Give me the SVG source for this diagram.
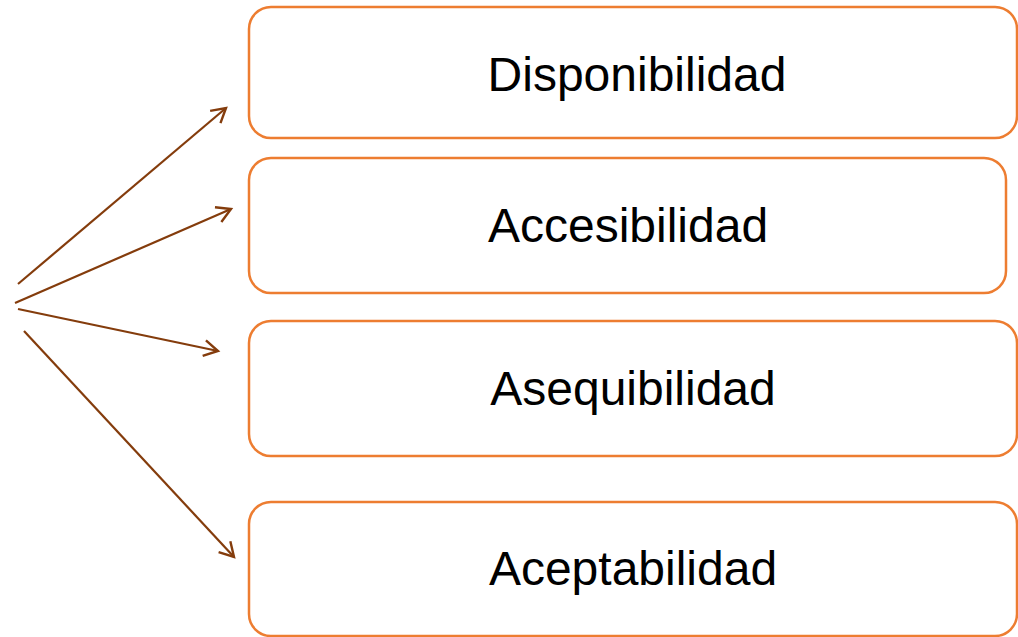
<svg xmlns="http://www.w3.org/2000/svg" width="1018" height="637" viewBox="0 0 1018 637">
<style>
.box{fill:#FFFFFF;stroke:#ED7D31;stroke-width:2.5}
.lbl{font-family:"Liberation Sans",Arial,sans-serif;font-size:48px;fill:#000000;text-anchor:middle}
.con{stroke:#843C0C;stroke-width:2.2;fill:none;marker-end:url(#ah)}
</style>
<defs>
<marker id="ah" viewBox="0 0 22 22" refX="18" refY="11" markerWidth="22" markerHeight="22" markerUnits="userSpaceOnUse" orient="auto">
<path d="M4,3 L18,11 L4,19" fill="none" stroke="#843C0C" stroke-width="2.4"/>
</marker>
</defs>
<rect width="1018" height="637" fill="#FFFFFF"/>
<g id="connectors">
<line class="con" x1="18" y1="284" x2="226" y2="108"/>
<line class="con" x1="15" y1="303" x2="231" y2="209"/>
<line class="con" x1="18" y1="309" x2="218" y2="351"/>
<line class="con" x1="24" y1="331" x2="234" y2="557"/>
</g>
<g id="node-disponibilidad">
<rect class="box" x="249" y="7" width="768" height="131" rx="22"/>
<text class="lbl" x="637" y="91">Disponibilidad</text>
</g>
<g id="node-accesibilidad">
<rect class="box" x="249" y="158" width="757" height="135" rx="22"/>
<text class="lbl" x="628" y="242">Accesibilidad</text>
</g>
<g id="node-asequibilidad">
<rect class="box" x="249" y="321" width="768" height="135" rx="22"/>
<text class="lbl" x="633" y="405">Asequibilidad</text>
</g>
<g id="node-aceptabilidad">
<rect class="box" x="249" y="502" width="768" height="134" rx="22"/>
<text class="lbl" x="633" y="585">Aceptabilidad</text>
</g>
</svg>
